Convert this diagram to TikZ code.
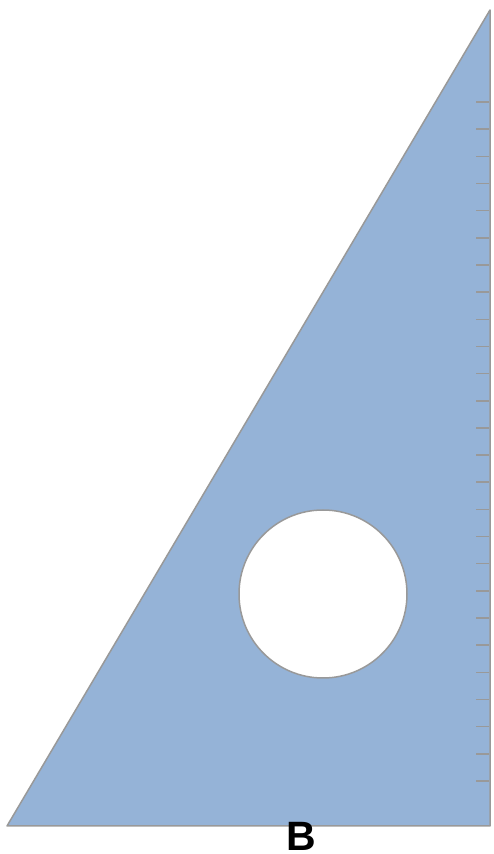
\documentclass[tikz,border=0pt]{standalone}
\usepackage{fontspec}
\setmainfont{Liberation Sans}
\definecolor{sqfill}{HTML}{95B3D7}
\definecolor{sqline}{HTML}{999999}
\begin{document}
\begin{tikzpicture}[x=1pt,y=1pt,
  edge/.style={draw=sqline,line width=1.5pt},
  tick/.style={draw=sqline,line width=1.5pt}]
\useasboundingbox (0,0) rectangle (494,854);
\coordinate (A) at (7,28);
\coordinate (C) at (490,28);
\coordinate (T) at (490,844);
\fill[sqfill] (A) -- (C) -- (T) -- cycle;
\foreach \i in {0,...,25}{
  \draw[tick] (476,{854-102-27.16*\i}) -- (489,{854-102-27.16*\i});
}
\draw[edge,line join=round] (A) -- (C) -- (T) -- cycle;
\node[circle,minimum size=168pt,inner sep=0pt,fill=white,draw=sqline,line width=1.5pt] (hole) at (323,260) {};
\node[font=\fontsize{41}{41}\selectfont\bfseries,inner sep=0pt] (B) at (301,18) {B};
\end{tikzpicture}
\end{document}
